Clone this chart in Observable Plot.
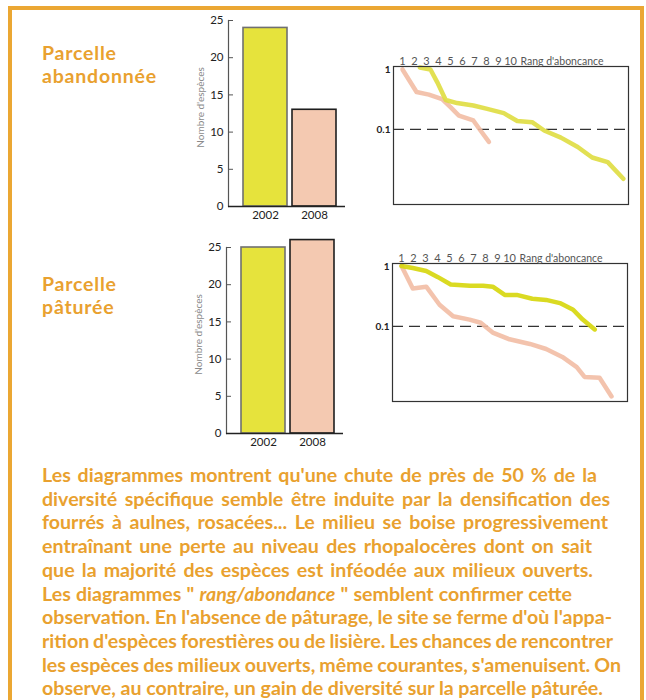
<!DOCTYPE html>
<html><head><meta charset="utf-8">
<script src="https://cdn.jsdelivr.net/npm/d3@7"></script>
<script src="https://cdn.jsdelivr.net/npm/@observablehq/plot@0.6"></script>
<style>
html,body{margin:0;padding:0;background:#fff}
body{width:646px;height:700px;overflow:hidden;position:relative;font-family:Lato,"Open Sans",sans-serif}
#box{position:absolute;left:8px;top:6px;height:740px;border:4px solid #eba733;box-sizing:border-box;width:636px}
.lbl{position:absolute;left:42px;color:#e9a12f;font-weight:bold;font-size:19.5px;line-height:23.4px;letter-spacing:0.8px;white-space:nowrap}
#para{position:absolute;left:42px;top:463px;color:#e9a12f;font-weight:bold;font-size:19.6px;line-height:23.7px;white-space:nowrap}
.chart{position:absolute}
</style></head><body>
<div id="box"></div>
<div class="lbl" style="top:40.8px">Parcelle<br>abandonnée</div>
<div class="lbl" style="top:271.8px">Parcelle<br>pâturée</div>
<div class="chart" id="bar1" style="left:190px;top:5px"></div>
<div class="chart" id="bar2" style="left:188px;top:232px"></div>
<div class="chart" id="line1" style="left:350px;top:45px"></div>
<div class="chart" id="line2" style="left:349px;top:242px"></div>
<div id="para"></div>
<script>
// ---- data ----
const years = ["2002", "2008"];
const speciesAbandoned = [24, 13];
const speciesGrazed = [25, 26];
const barFills = ["#e6e33c", "#f4c9b1"];
const barStrokes = ["#707070", "#1e1e1e"];
const barTicks = [0, 5, 10, 15, 20, 25];
const barYLabel = "Nombre d'espèces";

const rankTicks = [1, 2, 3, 4, 5, 6, 7, 8, 9, 10];
const rankLabel = "Rang d'aboncance";
const abundTicks = [1, 0.1, 0.0058];
const abundTickLabels = ["1", "0.1", "001"];
const threshold = 0.1;

// [rank, relative abundance]
const abandoned2002 = [[2.45,1.08],[3.33,1.0],[3.9,0.61],[4.6,0.31],[5.55,0.275],[6.9,0.25],[8.06,0.22],[9.44,0.187],[10.56,0.138],[11.8,0.132],[12.8,0.096],[14.2,0.073],[15.6,0.051],[16.8,0.034],[18.1,0.0285],[19.4,0.015]];
const abandoned2008 = [[1.0,1.0],[2.17,0.42],[3.2,0.38],[4.3,0.32],[5.0,0.235],[5.7,0.17],[6.9,0.141],[7.5,0.096],[8.2,0.062]];
const grazed2002 = [[1.0,1.02],[1.94,0.94],[3.06,0.84],[4.0,0.67],[5.1,0.5],[6.7,0.475],[7.8,0.475],[8.6,0.46],[9.6,0.335],[10.6,0.335],[11.9,0.29],[13.05,0.277],[14.2,0.245],[15.3,0.19],[16.1,0.13],[17.1,0.089]];
const grazed2008 = [[1.0,1.02],[1.94,0.43],[3.06,0.46],[4.17,0.23],[5.3,0.148],[6.67,0.13],[7.6,0.115],[8.6,0.079],[10.0,0.061],[11.7,0.051],[13.05,0.042],[14.4,0.031],[15.6,0.021],[16.25,0.0144],[17.5,0.0139],[18.5,0.0068]];
const lineColors = {y2002top: "#dfdd40", y2002bot: "#d6d60a", y2008: "#f2bda4"};

const paragraphLines = [
  "Les diagrammes montrent qu'une chute de près de 50 % de la",
  "diversité spécifique semble être induite par la densification des",
  "fourrés à aulnes, rosacées... Le milieu se boise progressivement",
  "entraînant une perte au niveau des rhopalocères dont on sait",
  "que la majorité des espèces est inféodée aux milieux ouverts.",
  "Les diagrammes \" <i>rang/abondance</i> \" semblent confirmer cette",
  "observation. En l'absence de pâturage, le site se ferme d'où l'appa-",
  "rition d'espèces forestières ou de lisière. Les chances de rencontrer",
  "les espèces des milieux ouverts, même courantes, s'amenuisent. On",
  "observe, au contraire, un gain de diversité sur la parcelle pâturée."
];
// layout: right edge (page px) of each paragraph line in the reference
const paragraphRightEdges = [597, 610, 608, 592, 593, 572, 612, 613, 621, 603];

// ---- bar charts ----
function barChart(values) {
  const W = 160, ML = 38, MR = 5;
  const data = years.map((y, i) => ({year: y, n: values[i], i}));
  return Plot.plot({
    width: W, height: 230, marginLeft: ML, marginRight: MR, marginTop: 15, marginBottom: 29,
    style: {fontFamily: "Lato, sans-serif", fontSize: "11.5px", color: "#222", background: "transparent", overflow: "visible"},
    x: {domain: years, range: [53, 147], paddingInner: 0.1, paddingOuter: 0},
    y: {domain: [0, 25]},
    marks: [
      ...data.map(d => Plot.barY([d], {x: "year", y: "n", fill: barFills[d.i], stroke: barStrokes[d.i], strokeWidth: 1.6})),
      Plot.ruleY(barTicks, {insetRight: W - ML - MR - 5, stroke: "#555", strokeWidth: 1}),
      Plot.frame({anchor: "left", stroke: "#555", strokeWidth: 1.2}),
      Plot.ruleY([0], {stroke: "#222", strokeWidth: 1.5}),
      Plot.axisY({ticks: barTicks, tickSize: 0, tickPadding: 5, label: null}),
      Plot.axisX({tickSize: 0, tickPadding: 4, label: null}),
      Plot.text([barYLabel], {frameAnchor: "left", textAnchor: "middle", rotate: -90, dx: -28, dy: -6, fill: "#8a8a8a", fontSize: 10})
    ]
  });
}

// ---- rank/abundance charts ----
function rankChart(series) {
  return Plot.plot({
    width: 290, height: 175, marginLeft: 43, marginRight: 12, marginTop: 21, marginBottom: 16,
    style: {fontFamily: "Lato, sans-serif", fontSize: "10px", color: "#333", background: "transparent", overflow: "visible"},
    x: {domain: [0.25, 19.83]},
    y: {type: "log", domain: [0.0056, 1.12]},
    marks: [
      Plot.ruleY([threshold], {stroke: "#333", strokeWidth: 1.3, strokeDasharray: "11,6"}),
      ...series.map(s => Plot.line(s.data, {x: d => d[0], y: d => d[1], stroke: s.color, strokeWidth: 4.5, strokeOpacity: 0.9})),
      Plot.frame({stroke: "#333", strokeWidth: 1.2}),
      Plot.axisX({ticks: rankTicks, anchor: "top", tickSize: 0, tickPadding: 2, label: null, fill: "#555", fontSize: 11}),
      Plot.text([rankLabel], {frameAnchor: "top-right", textAnchor: "end", lineAnchor: "bottom", dx: -25, dy: -2, fill: "#555", fontSize: 10.5}),
      Plot.axisY({ticks: abundTicks, tickSize: 0, tickPadding: 3, label: null, tickFormat: d => abundTickLabels[abundTicks.indexOf(d)], fill: "#222", fontWeight: "bold"})
    ]
  });
}

document.getElementById("bar1").appendChild(barChart(speciesAbandoned));
document.getElementById("bar2").appendChild(barChart(speciesGrazed));
document.getElementById("line1").appendChild(rankChart([
  {data: abandoned2008, color: lineColors.y2008},
  {data: abandoned2002, color: lineColors.y2002top}
]));
document.getElementById("line2").appendChild(rankChart([
  {data: grazed2008, color: lineColors.y2008},
  {data: grazed2002, color: lineColors.y2002bot}
]));

// paragraph: one line per div, word spacing fitted to the reference line widths
const para = document.getElementById("para");
paragraphLines.forEach((txt, i) => {
  const div = document.createElement("div");
  const span = document.createElement("span");
  span.innerHTML = txt;
  div.appendChild(span);
  para.appendChild(div);
  const r = span.getBoundingClientRect();
  const spaces = (span.textContent.match(/ /g) || []).length;
  if (spaces > 0) {
    const ws = (paragraphRightEdges[i] - r.right) / spaces;
    span.style.wordSpacing = ws.toFixed(2) + "px";
  }
});
</script>
</body></html>
